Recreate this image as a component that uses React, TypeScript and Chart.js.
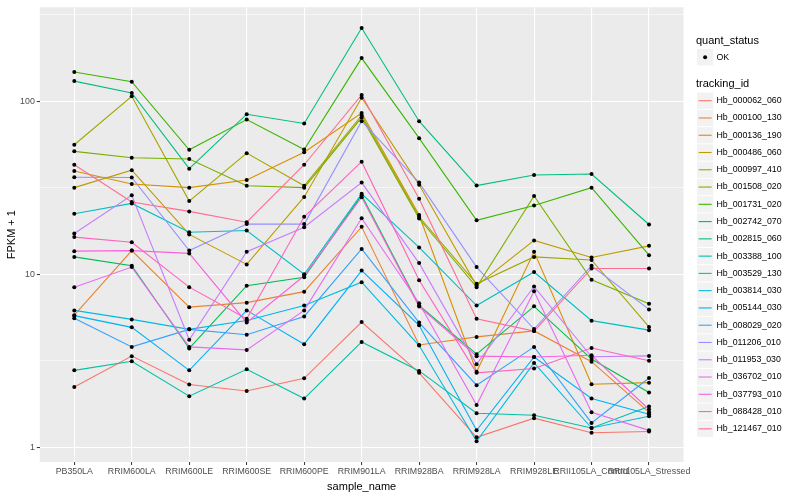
import React, { useEffect, useRef } from 'react';
import { Chart, registerables } from 'chart.js';

Chart.register(...registerables);

const FONT = '"Liberation Sans", Arial, Helvetica, sans-serif';

const categories = [
  'PB350LA', 'RRIM600LA', 'RRIM600LE', 'RRIM600SE', 'RRIM600PE', 'RRIM901LA',
  'RRIM928BA', 'RRIM928LA', 'RRIM928LE', 'RRII105LA_Control', 'RRII105LA_Stressed',
];

const trackingIds = [
  'Hb_000062_060', 'Hb_000100_130', 'Hb_000136_190', 'Hb_000486_060', 'Hb_000997_410',
  'Hb_001508_020', 'Hb_001731_020', 'Hb_002742_070', 'Hb_002815_060', 'Hb_003388_100',
  'Hb_003529_130', 'Hb_003814_030', 'Hb_005144_030', 'Hb_008029_020', 'Hb_011206_010',
  'Hb_011953_030', 'Hb_036702_010', 'Hb_037793_010', 'Hb_088428_010', 'Hb_121467_010',
];

const seriesColors = [
  '#F8766D', '#EA8331', '#D89000', '#C09B00', '#A3A500',
  '#7CAE00', '#39B600', '#00BB4E', '#00BF7D', '#00C1A3',
  '#00BFC4', '#00BAE0', '#00B0F6', '#35A2FF', '#9590FF',
  '#C77CFF', '#E76BF3', '#FA62DB', '#FF62BC', '#FF6C91',
];

// FPKM + 1 per sample (order of categories)
const hb_000062_060 = [2.23, 3.36, 2.30, 2.11, 2.50, 5.29, 2.69, 1.14, 1.47, 1.21, 1.23];
const hb_000100_130 = [5.8, 13.7, 6.45, 6.85, 7.93, 18.8, 3.9, 4.34, 4.7, 3.12, 1.59];
const hb_000136_190 = [39.6, 33.3, 31.7, 35.1, 50.8, 85.6, 22.0, 2.73, 13.5, 2.31, 2.36];
const hb_000486_060 = [31.7, 40.0, 17.0, 11.4, 28.0, 105, 32.9, 8.6, 15.7, 12.5, 14.6];
const hb_000997_410 = [56.1, 107, 26.5, 50.2, 32.5, 83, 21.5, 8.8, 12.6, 12.1, 4.96];
const hb_001508_020 = [51.4, 47.2, 46.4, 32.5, 31.7, 80.6, 21.0, 8.42, 28.4, 9.29, 6.75];
const hb_001731_020 = [148, 130, 52.5, 78.5, 52.7, 178, 61.3, 20.5, 25.0, 31.7, 12.9];
const hb_002742_070 = [12.6, 11.2, 3.72, 8.58, 9.6, 28.6, 6.6, 3.45, 6.52, 3.23, 2.07];
const hb_002815_060 = [131, 112, 40.8, 84.3, 74.5, 266, 76.8, 32.6, 37.5, 38.0, 19.4];
const hb_003388_100 = [2.78, 3.14, 1.97, 2.82, 1.91, 4.06, 2.76, 1.57, 1.53, 1.29, 1.72];
const hb_003529_130 = [22.4, 25.7, 17.5, 17.9, 10.0, 29.2, 14.3, 6.59, 10.3, 5.39, 4.75];
const hb_003814_030 = [6.18, 5.48, 4.80, 5.4, 6.6, 9.0, 3.87, 1.08, 3.07, 1.29, 1.51];
const hb_005144_030 = [5.76, 4.93, 2.78, 6.18, 3.94, 10.5, 5.07, 1.25, 3.32, 1.91, 1.55];
const hb_008029_020 = [5.56, 3.80, 4.80, 4.47, 5.7, 14.0, 5.25, 2.28, 3.80, 1.38, 2.51];
const hb_011206_010 = [36.4, 36.3, 13.7, 19.5, 19.5, 76.8, 33.9, 11.0, 4.82, 11.2, 6.26];
const hb_011953_030 = [17.2, 28.6, 4.18, 13.5, 18.7, 33.9, 11.6, 3.02, 8.49, 3.33, 3.37];
const hb_036702_010 = [8.42, 11.0, 3.80, 3.65, 6.18, 21.1, 6.8, 1.75, 7.98, 1.59, 1.25];
const hb_037793_010 = [13.6, 13.7, 13.2, 5.25, 9.8, 27.9, 6.5, 3.36, 3.32, 3.4, 1.65];
const hb_088428_010 = [16.4, 15.3, 8.42, 5.53, 21.5, 44.8, 9.24, 2.69, 2.85, 3.74, 3.16];
const hb_121467_010 = [43.0, 26.2, 23.1, 20.0, 43.0, 109, 27.3, 5.53, 4.69, 10.8, 10.8];

const seriesValues = [
  hb_000062_060, hb_000100_130, hb_000136_190, hb_000486_060, hb_000997_410,
  hb_001508_020, hb_001731_020, hb_002742_070, hb_002815_060, hb_003388_100,
  hb_003529_130, hb_003814_030, hb_005144_030, hb_008029_020, hb_011206_010,
  hb_011953_030, hb_036702_010, hb_037793_010, hb_088428_010, hb_121467_010,
];

const yMajorTicks = [1, 10, 100];
const yMinorTicks = [Math.sqrt(10), 10 * Math.sqrt(10), 100 * Math.sqrt(10)];
const quantStatus = ['OK'];

const isMajor = (v: number) => yMajorTicks.some((m) => Math.abs(m - v) < 1e-6);

const panelBg = {
  id: 'panelBg',
  beforeDraw(chart: any) {
    const { ctx, chartArea } = chart;
    ctx.save();
    ctx.fillStyle = '#EBEBEB';
    ctx.fillRect(chartArea.left, chartArea.top, chartArea.right - chartArea.left, chartArea.bottom - chartArea.top);
    ctx.restore();
  },
};

const ggLegend = {
  id: 'ggLegend',
  afterDraw(chart: any) {
    const ctx = chart.ctx;
    const x0 = 697;
    const key = 17.27;
    ctx.save();
    ctx.textAlign = 'left';
    ctx.textBaseline = 'middle';
    ctx.fillStyle = '#000';
    ctx.font = `11px ${FONT}`;
    ctx.fillText('quant_status', 696, 40.5);
    quantStatus.forEach((q, i) => {
      const cy = 57.2 + i * key;
      ctx.fillStyle = '#F2F2F2';
      ctx.fillRect(x0, cy - key / 2 + 0.5, key - 1, key - 1);
      ctx.fillStyle = '#000';
      ctx.beginPath();
      ctx.arc(x0 + (key - 1) / 2, cy, 2, 0, Math.PI * 2);
      ctx.fill();
      ctx.font = `8.8px ${FONT}`;
      ctx.fillText(q, 716.5, cy);
    });
    ctx.font = `11px ${FONT}`;
    ctx.fillStyle = '#000';
    ctx.fillText('tracking_id', 696, 84);
    const lines = chart.data.datasets.filter((d: any) => d.order >= 0);
    lines.forEach((ds: any, i: number) => {
      const cy = 100.7 + i * key;
      ctx.fillStyle = '#F2F2F2';
      ctx.fillRect(x0, cy - key / 2 + 0.5, key - 1, key - 1);
      ctx.strokeStyle = ds.borderColor;
      ctx.lineWidth = 1.1;
      ctx.beginPath();
      ctx.moveTo(x0 + 1.6, cy);
      ctx.lineTo(x0 + key - 2.6, cy);
      ctx.stroke();
      ctx.fillStyle = '#000';
      ctx.font = `8.8px ${FONT}`;
      ctx.fillText(ds.label, 716.5, cy);
    });
    ctx.restore();
  },
};

export default function App() {
  const ref = useRef<HTMLCanvasElement>(null);

  useEffect(() => {
    const canvas = ref.current;
    if (!canvas) return;
    const all = seriesValues.flat();
    const lmin = Math.log10(Math.min(...all));
    const lmax = Math.log10(Math.max(...all));
    const pad = (lmax - lmin) * 0.05;
    const yMin = Math.pow(10, lmin - pad);
    const yMax = Math.pow(10, lmax + pad);

    const lineSets = seriesValues.map((vals, i) => ({
      type: 'line' as const,
      label: trackingIds[i],
      data: vals.map((v, j) => ({ x: j, y: v })),
      borderColor: seriesColors[i],
      backgroundColor: seriesColors[i],
      borderWidth: 1.1,
      pointRadius: 0,
      pointHoverRadius: 0,
      tension: 0,
      fill: false,
      order: seriesValues.length - i,
    }));

    const pointSet = {
      type: 'line' as const,
      label: quantStatus[0],
      data: seriesValues.flatMap((vals) => vals.map((v, j) => ({ x: j, y: v }))),
      showLine: false,
      pointRadius: 2,
      pointHoverRadius: 2,
      pointBackgroundColor: '#000000',
      pointBorderColor: '#000000',
      pointBorderWidth: 0,
      borderColor: '#000000',
      backgroundColor: '#000000',
      order: -1,
    };

    const chart = new Chart(canvas, {
      type: 'line',
      data: { datasets: [...lineSets, pointSet] as any },
      plugins: [panelBg, ggLegend],
      options: {
        responsive: false,
        animation: false,
        events: [],
        layout: { padding: { top: 5.5, right: 116.5, left: 0, bottom: 0 } },
        plugins: {
          legend: { display: false },
          tooltip: { enabled: false },
        },
        scales: {
          x: {
            type: 'linear',
            min: -0.6,
            max: categories.length - 1 + 0.6,
            afterBuildTicks: (s: any) => {
              s.ticks = categories.map((_, i) => ({ value: i }));
            },
            afterFit: (s: any) => {
              s.height = 500 - 462;
            },
            ticks: {
              callback: (v: any) => categories[v as number] ?? '',
              autoSkip: false,
              maxRotation: 0,
              minRotation: 0,
              color: '#4D4D4D',
              font: { size: 8.8, family: FONT },
              padding: 1,
            },
            grid: {
              color: '#FFFFFF',
              lineWidth: 1.1,
              tickColor: '#333333',
              tickLength: 3,
              tickWidth: 1,
            },
            border: { display: false },
            title: {
              display: true,
              text: 'sample_name',
              color: '#000000',
              font: { size: 11, family: FONT },
              padding: { top: 0, bottom: 6 },
            },
          },
          y: {
            type: 'logarithmic',
            min: yMin,
            max: yMax,
            bounds: 'data',
            afterBuildTicks: (s: any) => {
              s.ticks = [...yMajorTicks, ...yMinorTicks]
                .filter((v) => v >= yMin && v <= yMax)
                .sort((a, b) => a - b)
                .map((v) => ({ value: v }));
            },
            afterFit: (s: any) => {
              s.width = 39.8;
            },
            ticks: {
              callback: (v: any) => (isMajor(v as number) ? String(Math.round(v as number)) : ''),
              autoSkip: false,
              color: '#4D4D4D',
              font: { size: 8.8, family: FONT },
              padding: 2,
            },
            grid: {
              color: '#FFFFFF',
              lineWidth: (c: any) => (c.tick && isMajor(c.tick.value) ? 1.1 : 0.55),
              tickColor: (c: any) => (c.tick && isMajor(c.tick.value) ? '#333333' : 'rgba(0,0,0,0)'),
              tickLength: 3,
              tickWidth: 1,
            },
            border: { display: false },
            title: {
              display: true,
              text: 'FPKM + 1',
              color: '#000000',
              font: { size: 11, family: FONT },
              padding: { top: 5.4, bottom: 0 },
            },
          },
        },
      } as any,
    });

    return () => chart.destroy();
  }, []);

  return (
    <div style={{ position: 'absolute', left: 0, top: 0, width: 800, height: 500, background: '#FFFFFF' }}>
      <canvas ref={ref} width={800} height={500} style={{ width: 800, height: 500, display: 'block' }} />
    </div>
  );
}
